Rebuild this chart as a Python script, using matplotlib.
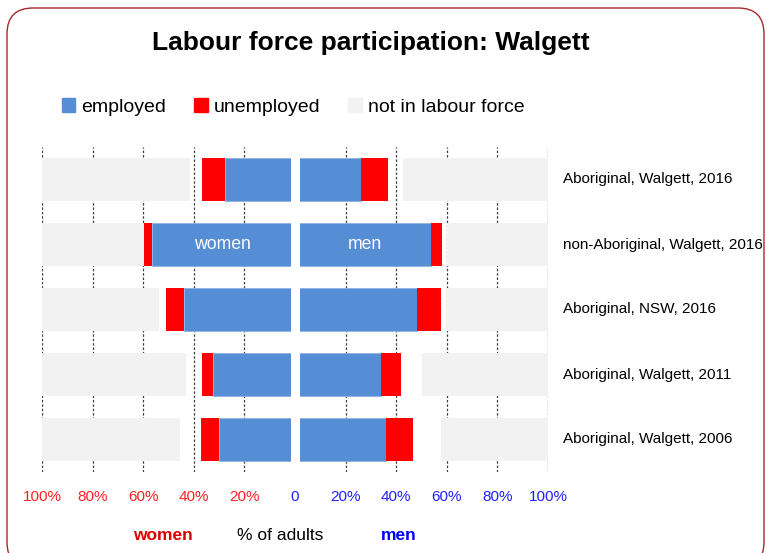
import matplotlib
matplotlib.use("Agg")
import matplotlib.pyplot as plt
from matplotlib.patches import Patch, FancyBboxPatch
from matplotlib.transforms import IdentityTransform
import numpy as np

plt.rcParams['font.family'] = ['Liberation Sans', 'DejaVu Sans']

# data (% of adults), rows top to bottom
groups = ["Aboriginal, Walgett, 2016", "non-Aboriginal, Walgett, 2016",
          "Aboriginal, NSW, 2016", "Aboriginal, Walgett, 2011", "Aboriginal, Walgett, 2006"]
women_employed = [27.7, 56.4, 43.9, 32.4, 30.0]
women_unemployed = [9.0, 3.3, 7.2, 4.3, 7.1]
women_nilf = [58.5, 40.3, 46.4, 56.8, 54.7]
men_employed = [26.1, 53.6, 48.1, 34.0, 36.0]
men_unemployed = [10.6, 4.6, 9.5, 7.9, 10.8]
men_nilf = [57.3, 40.0, 40.0, 49.8, 42.2]
ticks = [-100, -80, -60, -40, -20, 0, 20, 40, 60, 80, 100]

c_emp = "#558ED5"
c_unemp = "#FF0000"
c_nilf = "#F2F2F2"

W, H = 767, 553
fig = plt.figure(figsize=(W / 100, H / 100), dpi=100)

# rounded frame
frame = FancyBboxPatch((7, -15), 757, 560, boxstyle="round,pad=0,rounding_size=26",
                       transform=IdentityTransform(), facecolor="none",
                       edgecolor="#A52A2A", linewidth=1.0)
fig.patches.append(frame)

ax = fig.add_axes([42 / W, 81 / H, 506 / W, 325 / H])
y = np.arange(len(groups))
h = 0.667

we = np.array(women_employed)
wu = np.array(women_unemployed)
me = np.array(men_employed)
mu = np.array(men_unemployed)

ax.barh(y, -we, height=h, color=c_emp, edgecolor="#8DB3E2", linewidth=0.6, zorder=2)
ax.barh(y, -wu, left=-we, height=h, color=c_unemp, zorder=2)
ax.barh(y, women_nilf, left=-100, height=h, color=c_nilf, zorder=2)
ax.barh(y, me, height=h, color=c_emp, edgecolor="#8DB3E2", linewidth=0.6, zorder=2)
ax.barh(y, mu, left=me, height=h, color=c_unemp, zorder=2)
ax.barh(y, men_nilf, left=100 - np.array(men_nilf), height=h, color=c_nilf, zorder=2)

# white gap between women and men
ax.axvline(0, color="white", linewidth=6.5, zorder=3)

# labels inside the non-Aboriginal bars
ax.text(-(we[1] - 2) / 2 - 1.5, 1, "women", color="white", fontsize=12.7, ha="center", va="center", zorder=4)
ax.text((me[1] + 2) / 2, 1, "men", color="white", fontsize=12.7, ha="center", va="center", zorder=4)

ax.set_xlim(-100, 100)
ax.set_ylim(4.5, -0.5)
ax.set_yticks([])
ax.set_xticks(ticks)
ax.set_xticklabels([f"{abs(t)}%" if t != 0 else "0" for t in ticks], fontsize=11)
for t, lab in zip(ticks, ax.get_xticklabels()):
    lab.set_color("#FF2020" if t < 0 else "#2020FF")
ax.tick_params(axis="x", length=0, pad=13)
for t in ticks:
    if t != 0:
        ax.axvline(t, color="#404040", linewidth=0.9, linestyle=(0, (2, 1.5)), zorder=1)
for s in ax.spines.values():
    s.set_visible(False)

for i, g in enumerate(groups):
    ax.text(1.03, 1 - (i + 0.5) / len(groups), g, transform=ax.transAxes,
            fontsize=11, va="center", ha="left")

fig.text(371 / W, 1 - 43 / H, "Labour force participation: Walgett", fontsize=19,
         fontweight="bold", ha="center", va="center")

handles = [Patch(color=c_emp), Patch(color=c_unemp), Patch(color=c_nilf)]
fig.legend(handles, ["employed", "unemployed", "not in labour force"], ncol=3,
           loc="center left", bbox_to_anchor=(44 / W, 1 - 107 / H), frameon=False,
           fontsize=14, handlelength=0.7, handleheight=0.7, handletextpad=0.3,
           columnspacing=1.45)

fig.text(163 / W, 1 - 536 / H, "women", color="#E00000", fontsize=12.5, fontweight="bold",
         ha="center", va="center")
fig.text(280 / W, 1 - 536 / H, "% of adults", color="black", fontsize=12.5, ha="center", va="center")
fig.text(399 / W, 1 - 536 / H, "men", color="#0000FF", fontsize=12.5, fontweight="bold",
         ha="center", va="center")

fig.savefig("out.png", dpi=100)
